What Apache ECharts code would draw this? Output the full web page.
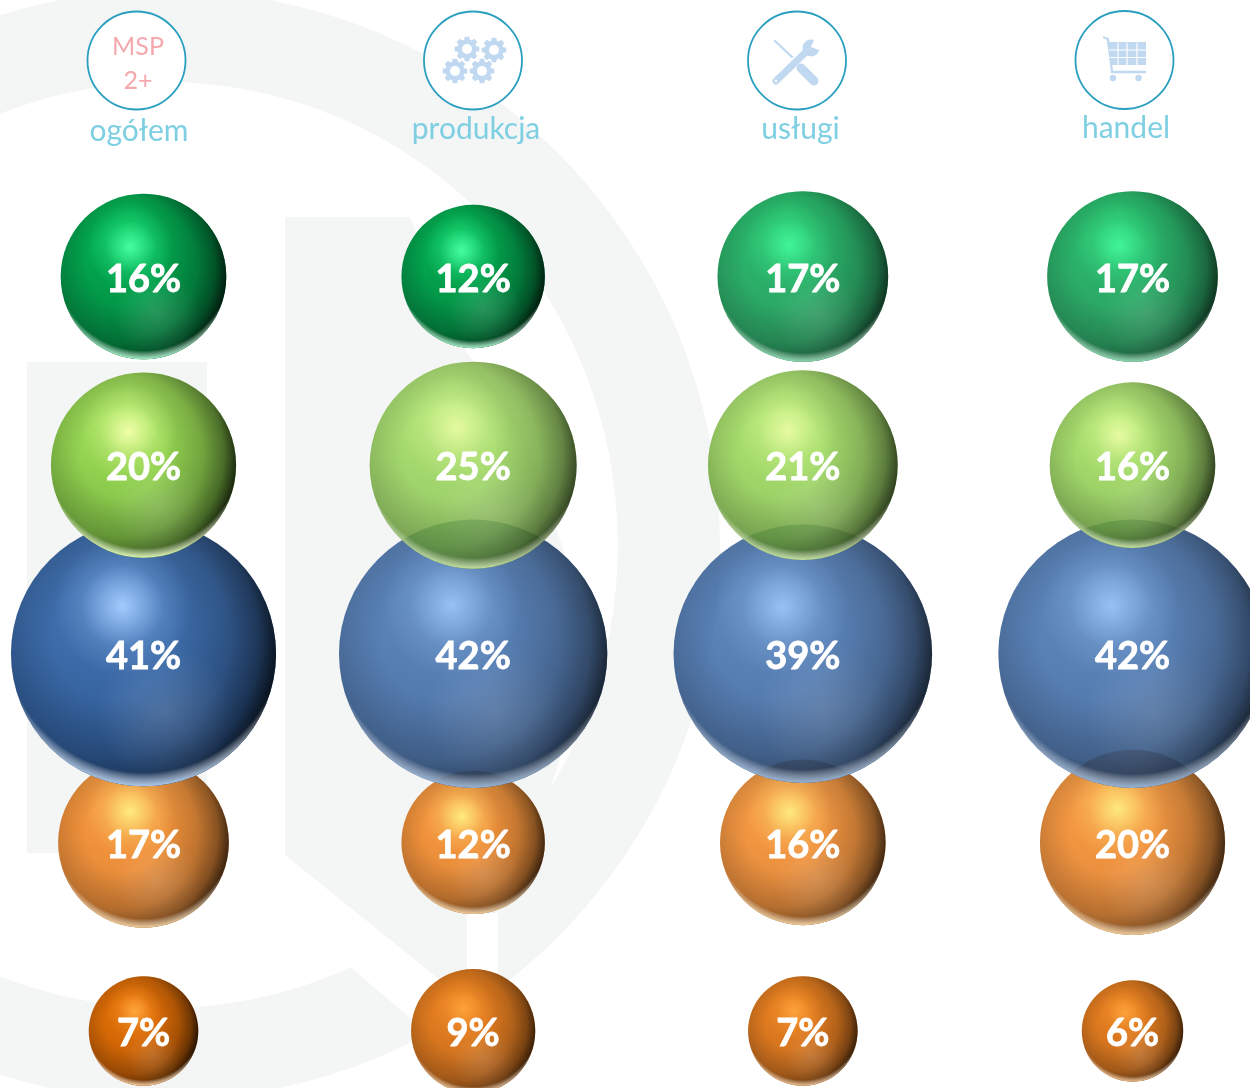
<!DOCTYPE html>
<html>
<head>
<meta charset="utf-8">
<title>MSP 2+</title>
<script src="https://cdn.jsdelivr.net/npm/echarts@6/dist/echarts.min.js"></script>
<style>
html, body { margin: 0; padding: 0; background: #fff; }
#chart { width: 1250px; height: 1088px; }
</style>
</head>
<body>
<div id="chart"></div>
<script>
// kolumny i udzialy w %, wiersze od gory do dolu
var categories = ['ogółem', 'produkcja', 'usługi', 'handel'];
var rowNames = ['green', 'lime', 'blue', 'orange', 'darkOrange'];
var greenValues = [16, 12, 17, 17];
var limeValues = [20, 25, 21, 16];
var blueValues = [41, 42, 39, 42];
var orangeValues = [17, 12, 16, 20];
var darkOrangeValues = [7, 9, 7, 6];
var rowValues = [greenValues, limeValues, blueValues, orangeValues, darkOrangeValues];

// styl kul
var sizeFactor = 41.4;
var sphereAlpha = [
    [1, 1, 0.84, 0.84],
    [1, 0.82, 0.85, 0.85],
    [1, 0.85, 0.85, 0.85],
    [0.92, 0.92, 0.9, 0.9],
    [1, 0.9, 0.9, 0.9]
];
var palette = {
    green: { top: '#05c45c', body: '#02a04c', low: '#048a43', spot: '#45ffa0', rim: '#9df0c4' },
    lime: { top: '#aaea62', body: '#92d250', low: '#7cb944', spot: '#f0ffa8', rim: '#dcf8b0' },
    blue: { top: '#4475b6', body: '#3c6ba9', low: '#2f5a94', spot: '#a2ccff', rim: '#a9c8ee' },
    orange: { top: '#fb9a38', body: '#f0892b', low: '#d97a25', spot: '#fff284', rim: '#ffd9a0' },
    darkOrange: { top: '#ec7508', body: '#d96a06', low: '#bd5b05', spot: '#ffa63c', rim: '#ffc890' }
};
// kolejnosc nakladania: zielone nad niebieskimi, niebieskie nad pomaranczowymi
var rowZ = { green: 4, lime: 6, blue: 5, orange: 3, darkOrange: 2 };

function radial(x, y, r, stops) {
    return {
        type: 'radial', x: x, y: y, r: r,
        colorStops: stops.map(function(s) { return { offset: s[0], color: s[1] }; })
    };
}

function sphereLayers(name) {
    var c = palette[name];
    return [
        radial(0.42, 0.12, 0.78, [[0, c.top], [0.55, c.body], [1, c.low]]),
        radial(0.38, 0.45, 0.63, [[0, 'rgba(0,0,0,0)'], [0.35, 'rgba(0,0,0,0)'], [0.7, 'rgba(0,0,0,0.2)'], [0.88, 'rgba(0,0,0,0.45)'], [1, 'rgba(0,0,0,0.8)']]),
        radial(0.58, 0.72, 0.26, [[0, 'rgba(255,255,255,0.14)'], [1, 'rgba(255,255,255,0)']]),
        radial(0.5, 0.42, 0.58, [[0, 'rgba(255,255,255,0)'], [0.91, 'rgba(255,255,255,0)'], [1, c.rim]]),
        radial(0.42, 0.32, 0.26, [[0, c.spot], [0.25, c.spot + 'aa'], [0.6, c.spot + '33'], [1, c.spot + '00']])
    ];
}

function sphereSize(d) {
    return sizeFactor * Math.sqrt(d[2]);
}

var series = [];
rowNames.forEach(function(name, row) {
    sphereLayers(name).forEach(function(fill, i) {
        series.push({
            type: 'scatter',
            name: name,
            silent: true,
            clip: false,
            z: rowZ[name] * 10 + i,
            symbol: 'circle',
            symbolSize: sphereSize,
            itemStyle: { color: fill },
            data: rowValues[row].map(function(v, col) {
                return {
                    value: [col, row, v],
                    itemStyle: { opacity: sphereAlpha[row][col] }
                };
            })
        });
    });
    // podpisy osobno, zeby nie braly przezroczystosci kul
    series.push({
        type: 'scatter',
        name: name,
        silent: true,
        clip: false,
        z: 100,
        symbol: 'circle',
        symbolSize: sphereSize,
        itemStyle: { color: 'rgba(0,0,0,0)', opacity: 1 },
        label: {
            show: true,
            position: 'inside',
            offset: [0, 3],
            color: '#fff',
            fontFamily: 'Lato',
            fontWeight: 'bold',
            fontSize: 38,
            textBorderColor: '#fff',
            textBorderWidth: 0.8,
            formatter: function(p) { return p.value[2] + '%'; }
        },
        data: rowValues[row].map(function(v, col) { return [col, row, v]; })
    });
});

// tlo: znak wodny
var WM = '#f4f5f5';
var background = [
    { type: 'circle', shape: { cx: 165, cy: 545, r: 555 }, style: { fill: WM } },
    { type: 'circle', originX: 165, originY: 545, scaleX: 0.978, shape: { cx: 165, cy: 545, r: 463 }, style: { fill: '#fff' } },
    { type: 'polygon', shape: { points: [[330, 945], [348, 965], [409, 1017], [467, 1066], [467, 1088], [498, 1088], [498, 913], [467, 913], [400, 920]] }, style: { fill: '#fff' } },
    { type: 'rect', shape: { x: 27, y: 362, width: 180, height: 491 }, style: { fill: WM } },
    { type: 'polygon', shape: { points: [[285, 217], [410, 217], [440, 290], [465, 350], [525, 430], [550, 510], [580, 600], [585, 680], [550, 790], [467, 913], [467, 1000], [440, 980], [285, 855]] }, style: { fill: WM } }
];

// ikony
var ICON = '#c0d8f0';
function gear(cx, cy) {
    var R = 12.5, r = 9.6, teeth = 8, pts = [];
    for (var i = 0; i < teeth; i++) {
        var a = i * 2 * Math.PI / teeth;
        [[r, -0.3], [R, -0.18], [R, 0.18], [r, 0.3]].forEach(function(p) {
            pts.push([cx + p[0] * Math.cos(a + p[1]), cy + p[0] * Math.sin(a + p[1])]);
        });
    }
    return [
        { type: 'polygon', shape: { points: pts }, style: { fill: ICON } },
        { type: 'circle', shape: { cx: cx, cy: cy, r: 5 }, style: { fill: '#fff' } }
    ];
}
function seg(x1, y1, x2, y2, w, color) {
    return {
        type: 'line',
        shape: { x1: x1, y1: y1, x2: x2, y2: y2 },
        style: { stroke: color || ICON, lineWidth: w, lineCap: 'round' }
    };
}

var headerCenters = [[136.5, 60.5], [473, 60.5], [797, 60.5], [1124.5, 60]];
var labelAnchors = [[139, 131], [476, 129], [800.5, 129], [1126, 128]];
var header = [];
headerCenters.forEach(function(c) {
    header.push({
        type: 'circle',
        shape: { cx: c[0], cy: c[1], r: 49 },
        style: { fill: '#fff', stroke: '#2a9fc0', lineWidth: 1.8 }
    });
});
categories.forEach(function(name, i) {
    header.push({
        type: 'text', x: labelAnchors[i][0], y: labelAnchors[i][1],
        style: { text: name, align: 'center', verticalAlign: 'middle', fill: '#7fcfe3', font: '30px Lato' }
    });
});
['MSP', '2+'].forEach(function(t, i) {
    header.push({
        type: 'text', x: 138, y: 46.5 + i * 34.5,
        style: { text: t, align: 'center', verticalAlign: 'middle', fill: '#f5a9ae', font: '25px Lato' }
    });
});

var icons = []
    .concat(gear(467, 49), gear(494, 50), gear(455, 71), gear(482, 71))
    // klucz i srubokret
    .concat([
        seg(775, 41, 792, 57, 2.4),
        seg(801, 68, 814, 81, 9),
        seg(776, 81, 810, 48, 7),
        { type: 'circle', shape: { cx: 811, cy: 48, r: 8.5 }, style: { fill: ICON } },
        { type: 'polygon', shape: { points: [[811, 47], [815, 38], [823, 41], [819, 50]] }, style: { fill: '#fff' } },
        { type: 'circle', shape: { cx: 776, cy: 81, r: 1.2 }, style: { fill: '#fff' } }
    ])
    // wozek
    .concat([
        { type: 'polygon', shape: { points: [[1107, 42], [1146, 42], [1146, 65], [1111, 65]] }, style: { fill: ICON } },
        seg(1104, 37.5, 1108, 39, 2.2),
        seg(1108, 39, 1112, 72, 2.2),
        seg(1112, 72, 1145, 72, 2.6),
        seg(1109, 50, 1146, 50, 1.2, '#fff'),
        seg(1110, 57.5, 1146, 57.5, 1.2, '#fff'),
        seg(1118, 43, 1118, 65, 1.2, '#fff'),
        seg(1127, 43, 1127, 65, 1.2, '#fff'),
        seg(1137, 43, 1137, 65, 1.2, '#fff'),
        { type: 'circle', shape: { cx: 1113, cy: 78, r: 3.2 }, style: { fill: ICON } },
        { type: 'circle', shape: { cx: 1138.5, cy: 78, r: 3.2 }, style: { fill: ICON } }
    ]);

var chart = echarts.init(document.getElementById('chart'), null, { renderer: 'canvas' });
var option = {
    animation: false,
    backgroundColor: '#fff',
    grid: { left: 143.5, right: 117.5, top: 276.5, bottom: 57 },
    xAxis: { type: 'category', data: categories, boundaryGap: false, show: false },
    yAxis: { type: 'category', data: rowNames, boundaryGap: false, inverse: true, show: false },
    graphic: { elements: background.concat(header, icons) },
    series: series
};
chart.setOption(option);
</script>
</body>
</html>
